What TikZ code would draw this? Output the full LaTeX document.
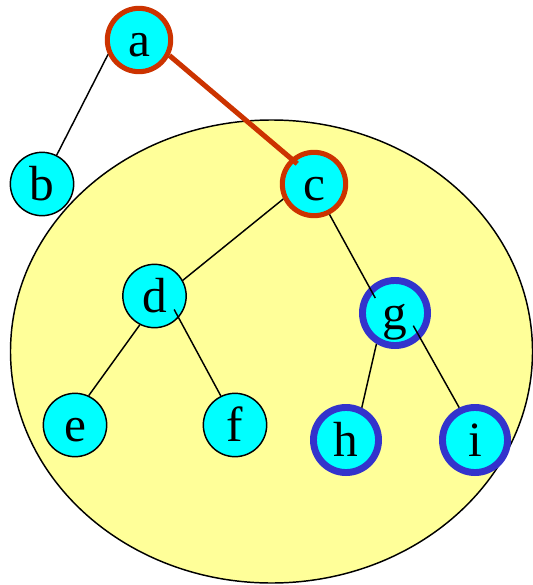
\documentclass[tikz,border=0pt]{standalone}
\usepackage{fontspec}
\setmainfont{Liberation Serif}
\usepackage{tikz}
\usetikzlibrary{arrows.meta}
\usepackage{xcolor}

\definecolor{nodecyan}{HTML}{00FFFF}
\definecolor{bubbleyellow}{HTML}{FFFF99}
\definecolor{pathred}{HTML}{CC3300}
\definecolor{markblue}{HTML}{3333CC}

\tikzset{
  vert/.style={circle,draw=black,line width=1.1pt,fill=nodecyan,
    minimum size=47.5pt,inner sep=0pt,text height=25pt,text depth=0pt,
    font=\fontsize{37}{40}\selectfont},
  onpath/.style={vert,draw=pathred,line width=3.8pt},
  marked/.style={vert,draw=markblue,line width=5.2pt,minimum size=48.8pt},
  edge/.style={black,line width=1.1pt},
  pathedge/.style={pathred,line width=3.8pt}
}

\begin{document}
\begin{tikzpicture}[x=0.75pt,y=-0.75pt]
		\useasboundingbox (0,0) rectangle (532,585);
		
		% Subtree under c
		\draw[fill=bubbleyellow,line width=1.1pt] (271.5,351.5) ellipse [x radius=261,y radius=231.5];
		
		% Vertices
		\node[onpath] (a) at (139,40) {a};
		\node[vert]   (b) at (42,184) {b};
		\node[onpath] (c) at (314,184) {c};
		\node[vert]   (d) at (154.5,296) {d};
		\node[marked] (g) at (395,313) {g};
		\node[vert]   (e) at (75,425) {e};
		\node[vert]   (f) at (235,425) {f};
		\node[marked] (h) at (346,440) {h};
		\node[marked] (i) at (475,440) {i};
		
		% Tree edges
		\draw[edge] (a.205) -- (b.63);
		\draw[pathedge,shorten >=-6pt] (a.-27) -- (c.132);
		\draw[edge] (c.206) -- (d.29);
		\draw[edge,shorten >=-9pt] (c.-63) -- (g.135);
		\draw[edge] (d.243) -- (e.65);
		\draw[edge,shorten <=-7pt] (d.-42) -- (f.116);
		\draw[edge] (g.239) -- (h.64);
		\draw[edge,shorten <=-11pt] (g.-45) -- (i.116);
	\end{tikzpicture}
\end{document}
